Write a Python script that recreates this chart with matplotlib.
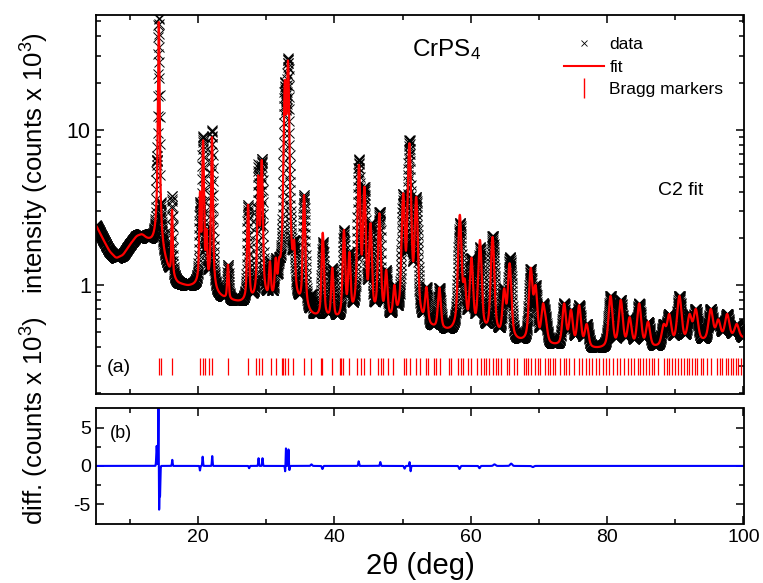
import numpy as np
import matplotlib
matplotlib.use("Agg")
import matplotlib.pyplot as plt
from matplotlib.lines import Line2D

plt.rcParams['font.family'] = ['Liberation Sans', 'DejaVu Sans']
plt.rcParams['mathtext.fontset'] = 'custom'
plt.rcParams['mathtext.rm'] = 'Liberation Sans'
plt.rcParams['mathtext.it'] = 'Liberation Sans:italic'
plt.rcParams['axes.unicode_minus'] = False

# ---------------- data ----------------
# smooth background (2theta, counts x 1e3)
bg_x = [5, 6, 7, 8, 9, 10, 11, 11.8, 12.5, 13.3, 14.0, 15.0, 16.0, 17.0, 18.5, 20, 22, 24, 26,
        28, 30, 32, 34, 36, 38, 40, 44, 48, 52, 55, 58, 62, 66, 70, 74, 78, 82, 86, 90, 94, 100]
bg_y = [2.45, 2.0, 1.65, 1.48, 1.55, 1.8, 2.05, 2.1, 1.95, 1.85, 1.8, 1.4, 1.12, 1.0, 0.96, 0.96,
        0.86, 0.79, 0.75, 0.73, 0.71, 0.67, 0.63, 0.59, 0.57, 0.56, 0.55, 0.54, 0.51, 0.49, 0.47,
        0.45, 0.42, 0.4, 0.39, 0.38, 0.38, 0.38, 0.4, 0.42, 0.45]

# peak positions and apex intensities (counts x 1e3)
peak_pos = [14.25, 16.2, 20.3, 20.75, 21.25, 22.05, 24.4, 27.35, 28.85, 29.35, 30.55, 31.4, 31.9,
            32.75, 33.2, 34.1, 35.55, 38.3, 39.7, 41.4, 42.2, 43.6, 44.4, 45.3, 46.6, 47.6, 48.8,
            50.1, 51.0, 52.0, 53.5, 55.4, 58.4, 59.1, 60.1, 61.35, 63.2, 64.9, 65.7, 68.8, 69.5,
            70.6, 71.0, 73.7, 74.7, 75.9, 77.0, 80.5, 82.0, 83.3, 84.7, 86.0, 88.3, 89.1, 90.6,
            92.1, 93.0, 95.2, 96.3, 97.6, 99.0]
peak_top = [50.0, 3.05, 4.0, 8.6, 2.3, 9.0, 1.35, 3.3, 5.1, 6.4, 1.42, 1.5, 1.5,
            21.0, 28.0, 1.95, 3.8, 2.17, 1.29, 2.26, 1.63, 5.95, 4.3, 2.5, 2.9, 1.25, 1.0,
            3.9, 8.2, 3.7, 0.97, 0.96, 2.83, 1.1, 1.5, 1.95, 2.04, 0.95, 1.38, 1.29, 1.0,
            0.76, 0.62, 0.76, 0.69, 0.74, 0.56, 0.85, 0.8, 0.62, 0.76, 0.58, 0.56, 0.65, 0.85,
            0.65, 0.7, 0.7, 0.6, 0.65, 0.56]

# difference curve features (position, amplitude, width)
diff_pos = [13.94, 14.2, 14.3, 14.43, 16.23, 20.29, 20.68, 22.09, 27.5, 28.88, 29.46, 32.8,
            32.9, 33.27, 33.4, 36.64, 38.25, 43.56, 46.74, 50.3, 51.03, 51.18, 58.35, 61.28,
            63.48, 65.92, 69.1]
diff_amp = [2.6, 7.8, -5.9, -4.0, 0.8, -0.6, 1.2, 1.3, -0.3, 1.0, 1.0, -0.9,
            2.4, 2.2, -0.6, 0.2, -0.4, 0.6, 0.5, -0.35, 0.5, -0.7, -0.4, -0.3,
            0.2, 0.3, -0.15]
diff_wid = [0.06, 0.04, 0.04, 0.05, 0.05, 0.05, 0.05, 0.05, 0.06, 0.05, 0.05, 0.05,
            0.05, 0.05, 0.05, 0.1, 0.08, 0.06, 0.06, 0.08, 0.05, 0.05, 0.1, 0.1,
            0.15, 0.15, 0.15]

# Bragg marker positions (deg)
bragg = [14.33, 14.58, 16.23, 20.33, 20.7, 21.1, 21.6, 22.08,
         24.43, 27.36, 28.44, 28.92, 29.46, 30.68, 31.51, 32.25, 32.54, 32.83, 33.13, 33.9,
         35.56, 36.54, 38.05, 38.25, 39.71, 40.78, 41.03, 41.32, 42.14,
         43.37, 43.85, 44.34, 45.18, 46.39, 46.79, 47.13, 47.86, 48.59, 50.16, 50.55, 51.04,
         52.01, 52.5, 53.38, 53.72, 54.6, 54.95, 55.43, 56.75, 57.14, 58.11, 58.51, 58.84,
         59.58, 60.07, 60.95, 61.53, 61.9,
         62.26, 62.75, 63.23, 63.73, 64.06, 64.46, 65.34, 65.67, 66.3, 66.8, 67.77, 68.12,
         68.46, 68.85, 69.44, 69.82, 70.21, 70.94, 71.28, 71.63, 72.01, 72.41, 73.14, 73.62,
         73.98, 74.46, 75.19, 75.82, 76.26, 76.9, 77.39, 77.72, 78.37, 78.85, 79.33, 79.83,
         80.31, 80.8,
         81.44, 81.93, 82.41, 83.0, 83.49, 83.87, 84.46, 84.85, 85.19, 85.69, 86.17, 86.51,
         86.9, 87.39, 88.37, 88.76, 89.1, 89.58, 89.98, 90.42, 90.81, 91.29, 91.69, 92.02,
         92.51, 92.9, 93.24, 93.74, 94.12, 94.71, 95.21, 96.17, 96.57, 96.91, 97.4, 97.74,
         98.13, 98.51, 98.87, 99.2, 99.6]

# ---------------- build profiles ----------------
tt = np.arange(5.0, 100.0001, 0.02)
bgl = np.interp(tt, bg_x, np.log(bg_y))
k = np.ones(25) / 25
bgl = np.convolve(np.pad(bgl, 12, mode='edge'), k, mode='valid')
bg = np.exp(bgl)


def pv(x, c, w, eta=0.5):
    g = np.exp(-4 * np.log(2) * ((x - c) / w) ** 2)
    l = 1.0 / (1 + 4 * ((x - c) / w) ** 2)
    return eta * l + (1 - eta) * g


pp = np.array(peak_pos)
pt = np.array(peak_top)
pw = 0.18 + 0.0065 * (pp - 14)
A = np.array([[pv(pi, pj, wj) for pj, wj in zip(pp, pw)] for pi in pp])
target = pt - np.exp(np.interp(pp, tt, bgl))
h = np.linalg.solve(A, target)
h = np.clip(h, 0.02, None)

fit = bg.copy()
for c, w, hh in zip(pp, pw, h):
    fit += hh * pv(tt, c, w)

diff = np.zeros_like(tt)
for c, a, s in zip(diff_pos, diff_amp, diff_wid):
    diff += a * np.exp(-0.5 * ((tt - c) / s) ** 2)
data = fit + diff

# ---------------- figure ----------------
fig = plt.figure(figsize=(7.63, 5.83), dpi=100)
W, H = 763, 583
ax1 = fig.add_axes([95.7 / W, 1 - 394 / H, (743.5 - 95.7) / W, (394 - 15) / H])
ax2 = fig.add_axes([95.7 / W, 1 - 524.3 / H, (743.5 - 95.7) / W, (524.3 - 408.3) / H])

ax1.plot(tt, data, linestyle='none', marker='x', color='k', ms=6.5, mew=0.7)
ax1.plot(tt, fit, color='#ff0000', lw=1.6)
ax1.vlines(bragg, 0.263, 0.336, color='#ff0000', lw=0.9)
ax1.set_yscale('log')
ax1.set_ylim(0.198, 55)
ax1.set_xlim(5, 100)
ax1.set_yticks([1, 10])
ax1.set_yticklabels(['1', '10'])
ax1.set_xticks([20, 40, 60, 80, 100])
ax1.set_xticks([10, 30, 50, 70, 90], minor=True)
ax1.tick_params(labelbottom=False)
ax1.yaxis.set_minor_formatter(matplotlib.ticker.NullFormatter())

ax2.plot(tt, diff, color='#0000ff', lw=1.5)
ax2.set_xlim(5, 100)
ax2.set_ylim(-7.6, 7.5)
ax2.set_yticks([-5, 0, 5])
ax2.set_yticklabels(['-5', '0', '5'])
ax2.set_yticks([-2.5, 2.5], minor=True)
ax2.set_xticks([20, 40, 60, 80, 100])
ax2.set_xticks([10, 30, 50, 70, 90], minor=True)

for ax in (ax1, ax2):
    for s in ax.spines.values():
        s.set_linewidth(1.3)
    ax.tick_params(which='both', direction='in', top=True, right=True, width=1.1)
    ax.tick_params(which='major', length=6)
    ax.tick_params(which='minor', length=3.5)
ax1.tick_params(axis='y', labelsize=15.5)
ax2.tick_params(labelsize=14)

ax1.text(0.017, 0.071, '(a)', transform=ax1.transAxes, fontsize=14, va='center')
ax2.text(0.022, 0.787, '(b)', transform=ax2.transAxes, fontsize=13, va='center')
ax1.text(0.542, 0.91, 'CrPS$_4$', transform=ax1.transAxes, fontsize=17.5, ha='center', va='center')
ax1.text(0.868, 0.538, 'C2 fit', transform=ax1.transAxes, fontsize=14, va='center')

handles = [Line2D([], [], linestyle='none', marker='x', color='k', ms=5, mew=0.6),
           Line2D([], [], color='#ff0000', lw=1.5),
           Line2D([], [], linestyle='none', marker='|', color='#ff0000', ms=14, mew=1)]
ax1.legend(handles, ['data', 'fit', 'Bragg markers'], loc='upper right',
           bbox_to_anchor=(0.985, 0.969), frameon=False, fontsize=12.5,
           handlelength=2.3, handletextpad=0.3, labelspacing=0.42, borderaxespad=0.2)

fig.text(34.5 / W, 1 - 163 / H, 'intensity (counts x 10$^3$)', rotation=90,
         ha='center', va='center', fontsize=18.5)
fig.text(34.5 / W, 1 - 421 / H, 'diff. (counts x 10$^3$)', rotation=90,
         ha='center', va='center', fontsize=18.5)
fig.text(420 / W, 1 - 566 / H, '2\u03b8 (deg)', ha='center', va='center', fontsize=21)

fig.savefig('out.png', dpi=100)
